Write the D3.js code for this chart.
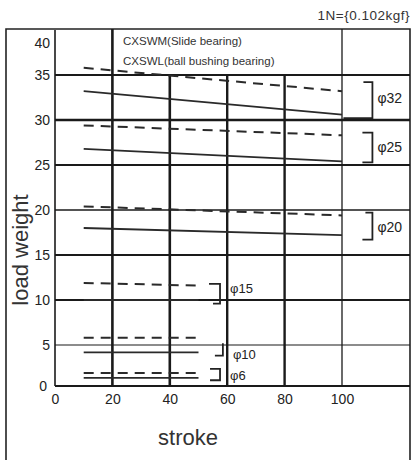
<!DOCTYPE html>
<html>
<head>
<meta charset="utf-8">
<script src="https://cdn.jsdelivr.net/npm/d3@7"></script>
<style>
  body { margin: 0; background: #fff; }
  svg { display: block; font-family: 'Liberation Sans', Arial, sans-serif; }
</style>
</head>
<body>
<div id="app"></div>
<script>
'use strict'

// stroke where each line starts / ends
const strokeLong = [10, 100]
const strokeShort = [10, 50]
const bores = ['φ32', 'φ25', 'φ20', 'φ15', 'φ10', 'φ6']
// CXSWM (slide bearing) -> dashed
const slideLoad = [[35.8, 33.2], [29.4, 28.3], [20.4, 19.4], [11.9, 11.6], [5.8, 5.8], [1.6, 1.6]]
// CXSWL (ball bushing bearing) -> solid
const ballLoad = [[33.2, 30.6], [26.8, 25.4], [18.0, 17.2], [10.0, 10.0], [4.1, 4.1], [1.0, 1.0]]
const xTicks = [0, 20, 40, 60, 80, 100]
const yTicks = [0, 5, 10, 15, 20, 25, 30, 35, 40]
const legendText = ['CXSWM(Slide bearing)', 'CXSWL(ball bushing bearing)']

// bracket marks next to the bore sizes (load range they cover)
const bracketHi = [34.2, 28.6, 19.7, 11.8, 5.2, 2.1]
const bracketLo = [30.2, 25.3, 16.7, 9.6, 3.7, 0.7]
const labelLoad = [32.4, 27.0, 18.1, 11.3, 3.8, 1.3]

const width = 412
const height = 460
const frame = {left: 6, right: 410, top: 29}

const svg = d3.select('#app').append('svg')
  .attr('width', width)
  .attr('height', height)

const x = d3.scaleLinear().domain([0, 100]).range([55, 342])
// the printed grid is a bit squeezed between 0 and 5
const y = d3.scaleLinear().domain([0, 5, 40]).range([386, 345, 30])

// outer frame
svg.append('path')
  .attr('d', `M${frame.left},${height} V${frame.top} H${frame.right} V${height}`)
  .attr('fill', 'none')
  .attr('stroke', '#222')
  .attr('stroke-width', 1.6)

// grid
const hWidth = {5: 1.2, 10: 2, 15: 2, 20: 1.4, 25: 2, 30: 2.6, 35: 2, 0: 2.2}
svg.append('g').selectAll('line')
  .data(yTicks.filter(function (d) { return d < 40 }))
  .enter().append('line')
  .attr('x1', x(0))
  .attr('x2', frame.right)
  .attr('y1', function (d) { return y(d) })
  .attr('y2', function (d) { return y(d) })
  .attr('stroke', '#1a1a1a')
  .attr('stroke-width', function (d) { return hWidth[d] })

const vWidth = {0: 1.6, 20: 2.6, 40: 2.6, 60: 2.4, 80: 2.4, 100: 1.3}
svg.append('g').selectAll('line')
  .data(xTicks)
  .enter().append('line')
  .attr('x1', function (d) { return x(d) })
  .attr('x2', function (d) { return x(d) })
  .attr('y1', function (d) {
    if (d === 0) return y(40)
    return (d === 20 || d === 100) ? frame.top : y(35)
  })
  .attr('y2', y(0))
  .attr('stroke', '#1a1a1a')
  .attr('stroke-width', function (d) { return vWidth[d] })

// axes, labels only
svg.append('g')
  .attr('transform', 'translate(' + x(0) + ',0)')
  .call(d3.axisLeft(y).tickValues(yTicks).tickSize(0).tickPadding(5))
  .call(function (g) { g.select('.domain').remove() })
  .call(function (g) {
    g.selectAll('text').attr('font-size', 14).attr('fill', '#222').attr('font-family', null)
    g.selectAll('.tick text').filter(function (d) { return d === 40 }).attr('dy', '1.25em')
    g.selectAll('.tick text').filter(function (d) { return d === 0 }).attr('x', -8)
  })

svg.append('g')
  .attr('transform', 'translate(0,' + y(0) + ')')
  .call(d3.axisBottom(x).tickValues(xTicks).tickSize(0).tickPadding(8))
  .call(function (g) { g.select('.domain').remove() })
  .call(function (g) {
    g.selectAll('text').attr('font-size', 14).attr('fill', '#222').attr('font-family', null)
  })

// load lines
const line = d3.line()
  .x(function (d) { return x(d[0]) })
  .y(function (d) { return y(d[1]) })

const strokeFor = function (i) { return i < 3 ? strokeLong : strokeShort }

svg.append('g').selectAll('path')
  .data(slideLoad)
  .enter().append('path')
  .attr('d', function (d, i) { return line(d3.zip(strokeFor(i), d)) })
  .attr('fill', 'none')
  .attr('stroke', '#2a2a2a')
  .attr('stroke-width', 2)
  .attr('stroke-dasharray', '10,7')

svg.append('g').selectAll('path')
  .data(ballLoad)
  .enter().append('path')
  .attr('d', function (d, i) { return line(d3.zip(strokeFor(i), d)) })
  .attr('fill', 'none')
  .attr('stroke', '#2a2a2a')
  .attr('stroke-width', 1.8)

// brackets + bore labels
const bracketX = function (i) { return i < 3 ? x(110.6) : x(i === 4 ? 58.5 : 57.5) }
const stubTop = [9, 10, 7, 11, 0, 10]
const stubBottom = [29, 10, 10, 7, 8, 10]

svg.append('g').selectAll('path')
  .data(bores)
  .enter().append('path')
  .attr('d', function (d, i) {
    const bx = bracketX(i)
    return d3.line()([
      [bx - stubTop[i], y(bracketHi[i])],
      [bx, y(bracketHi[i])],
      [bx, y(bracketLo[i])],
      [bx - stubBottom[i], y(bracketLo[i])]
    ])
  })
  .attr('fill', 'none')
  .attr('stroke', '#222')
  .attr('stroke-width', 1.8)

svg.append('g').selectAll('text')
  .data(bores)
  .enter().append('text')
  .attr('x', function (d, i) { return bracketX(i) + (i < 3 ? 5 : 10) })
  .attr('y', function (d, i) { return y(labelLoad[i]) })
  .attr('dy', '0.35em')
  .attr('font-size', function (d, i) { return i < 3 ? 14 : 13 })
  .attr('fill', '#222')
  .text(function (d) { return d })

// legend text in the top box
svg.append('g').selectAll('text')
  .data(legendText)
  .enter().append('text')
  .attr('x', 123)
  .attr('y', function (d, i) { return 45 + i * 20 })
  .attr('font-size', 11.5)
  .attr('fill', '#333')
  .text(function (d) { return d })

svg.append('text')
  .attr('x', frame.right)
  .attr('y', 20)
  .attr('text-anchor', 'end')
  .attr('font-size', 13.5)
  .attr('letter-spacing', 0.5)
  .attr('fill', '#333')
  .text('1N={0.102kgf}')

svg.append('text')
  .attr('x', 188)
  .attr('y', 445)
  .attr('text-anchor', 'middle')
  .attr('font-size', 22)
  .attr('fill', '#333')
  .text('stroke')

svg.append('text')
  .attr('transform', 'translate(28,250) rotate(-90)')
  .attr('text-anchor', 'middle')
  .attr('font-size', 22)
  .attr('fill', '#333')
  .text('load weight')
</script>
</body>
</html>
